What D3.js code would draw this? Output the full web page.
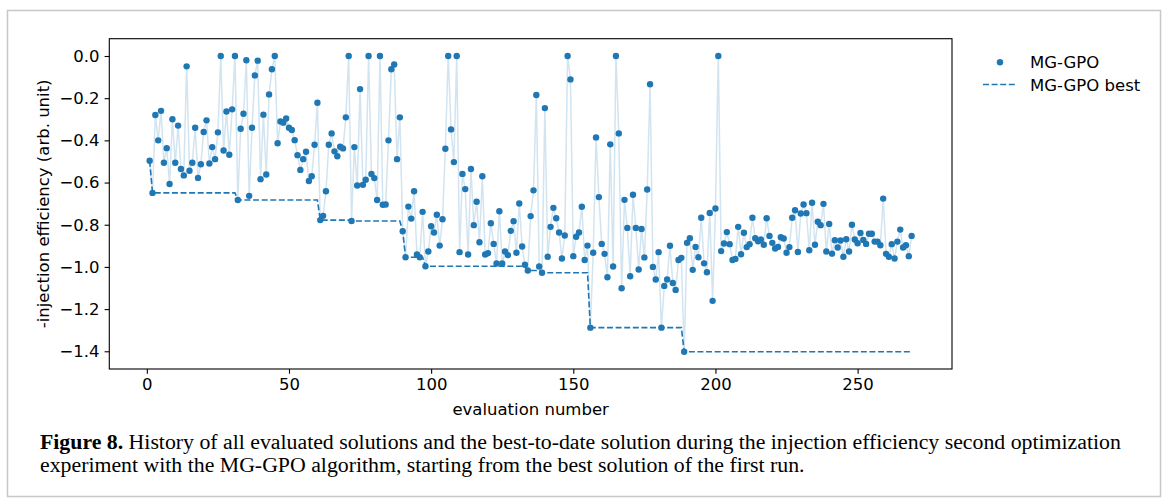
<!DOCTYPE html>
<html lang="en">
<head>
<meta charset="UTF-8">
<title>MG-GPO history</title>
<script src="https://d3js.org/d3.v7.min.js"></script>
<style>
  body { margin: 0; background: #fff; }
  text { font-family: 'DejaVu Sans', sans-serif; fill: #000; }
  .caption text { font-family: 'Liberation Serif', serif; }
</style>
</head>
<body>
<script>
// -injection efficiency for evaluations 1..269
const efficiency = [
  -0.497, -0.649, -0.28, -0.40, -0.26, -0.506, -0.437, -0.607, -0.30, -0.506,
  -0.33, -0.536, -0.566, -0.049, -0.544, -0.506, -0.34, -0.578, -0.513, -0.36,
  -0.305, -0.51, -0.432, -0.489, -0.362, 0.0, -0.448, -0.263, -0.468, -0.253,
  0.0, -0.683, -0.345, -0.274, -0.02, -0.663, -0.34, -0.092, -0.022, -0.584,
  -0.278, -0.562, -0.182, -0.063, 0.0, -0.414, -0.31, -0.316, -0.296, -0.34,
  -0.351, -0.399, -0.47, -0.54, -0.489, -0.454, -0.593, -0.57, -0.421, -0.222,
  -0.778, -0.758, -0.641, -0.421, -0.367, -0.452, -0.475, -0.43, -0.438, -0.291,
  0.0, -0.782, -0.432, -0.614, -0.157, -0.611, -0.587, 0.0, -0.559, -0.579,
  -0.683, 0.0, -0.705, -0.704, -0.40, -0.063, -0.04, -0.489, -0.291, -0.831,
  -0.954, -0.714, -0.771, -0.641, -0.941, -0.954, -0.739, -0.997, -0.927, -0.807,
  -0.837, -0.753, -0.899, -0.774, -0.44, 0.0, -0.348, -0.503, 0.0, -0.93,
  -0.559, -0.631, -0.941, -0.536, -0.802, -0.691, -0.883, -0.57, -0.941, -0.935,
  -0.793, -0.891, -0.984, -0.736, -0.984, -0.927, -0.944, -0.829, -0.783, -0.933,
  -0.699, -0.903, -0.99, -1.017, -0.759, -0.637, -0.185, -0.998, -1.028, -0.247,
  -0.952, -0.81, -0.72, -0.769, -0.837, -0.96, -0.851, 0.0, -0.111, -0.949,
  -0.857, -0.837, -0.715, -0.967, -0.899, -1.288, -0.933, -0.386, -0.669, -0.891,
  -0.938, -1.049, -0.419, -0.998, 0.0, -0.367, -1.101, -0.682, -0.815, -1.044,
  -0.658, -0.815, -1.012, -0.82, -0.955, -0.633, -0.134, -1.0, -1.06, -0.93,
  -1.288, -1.09, -1.06, -0.90, -1.076, -1.109, -0.967, -0.957, -1.402, -0.886,
  -0.864, -1.014, -0.905, -0.954, -0.767, -0.983, -1.025, -0.744, -1.161, -0.723,
  0.0, -0.925, -0.889, -0.835, -0.892, -0.967, -0.962, -0.81, -0.94, -0.838,
  -0.906, -0.892, -0.767, -0.864, -0.878, -0.87, -0.895, -0.769, -0.853, -0.886,
  -0.913, -0.905, -0.859, -0.865, -0.933, -0.906, -0.767, -0.731, -0.929, -0.747,
  -0.704, -0.745, -0.921, -0.696, -0.895, -0.786, -0.802, -0.701, -0.927, -0.796,
  -0.937, -0.873, -0.908, -0.875, -0.952, -0.869, -0.927, -0.80, -0.87, -0.888,
  -0.839, -0.872, -0.891, -0.843, -0.843, -0.88, -0.88, -0.897, -0.676, -0.938,
  -0.952, -0.892, -0.96, -0.88, -0.823, -0.908, -0.897, -0.949, -0.853
];

// evaluations where the best-to-date value improved
const bestEval  = [1, 2, 32, 61, 72, 90, 91, 98, 134, 139, 156, 189];
const bestValue = [-0.497, -0.649, -0.683, -0.778, -0.782, -0.831, -0.954, -0.997, -1.017, -1.028, -1.288, -1.402];

const xTicks = [0, 50, 100, 150, 200, 250];
const yTicks = [0.0, -0.2, -0.4, -0.6, -0.8, -1.0, -1.2, -1.4];

const seriesNames = ["MG-GPO", "MG-GPO best"];
const captionBold = "Figure 8.";
const captionLines = [
  " History of all evaluated solutions and the best-to-date solution during the injection efficiency second optimization",
  "experiment with the MG-GPO algorithm, starting from the best solution of the first run."
];

const width = 1170, height = 502;
const blue = "#1f77b4";

const evals = efficiency.map((d, i) => i + 1);
const points = evals.map((n, i) => [n, efficiency[i]]);
const lastEval = d3.max(evals);

// best-to-date: flat until the step before the next improvement
const bestPoints = [];
bestEval.forEach((n, i) => {
  bestPoints.push([n, bestValue[i]]);
  const end = i < bestEval.length - 1 ? bestEval[i + 1] - 1 : lastEval;
  if (end > n) bestPoints.push([end, bestValue[i]]);
});

const x = d3.scaleLinear().domain([-13.2, 283.2]).range([109.3, 952]);
const y = d3.scaleLinear().domain([-1.484, 0.082]).range([369, 38.7]);

const svg = d3.select("body").append("svg")
    .attr("width", width).attr("height", height);

// outer figure border
svg.append("rect")
    .attr("x", 7.5).attr("y", 10.5)
    .attr("width", 1153).attr("height", 486)
    .attr("fill", "none").attr("stroke", "#c8c8c8").attr("stroke-width", 1.5);

const line = d3.line().x(d => x(d[0])).y(d => y(d[1]));

svg.append("path")
    .datum(points)
    .attr("d", line)
    .attr("fill", "none")
    .attr("stroke", blue).attr("stroke-opacity", 0.2)
    .attr("stroke-width", 1.5);

svg.append("path")
    .datum(bestPoints)
    .attr("d", line)
    .attr("fill", "none")
    .attr("stroke", blue).attr("stroke-width", 1.6)
    .attr("stroke-dasharray", "6,2.6");

svg.append("g").selectAll("circle")
    .data(points).enter()
    .append("circle")
    .attr("cx", d => x(d[0]))
    .attr("cy", d => y(d[1]))
    .attr("r", 3.2)
    .attr("fill", blue);

// axes
const xAxis = svg.append("g")
    .attr("transform", `translate(0,${y.range()[0]})`)
    .call(d3.axisBottom(x).tickValues(xTicks).tickFormat(d3.format("d"))
        .tickSize(4.7).tickPadding(5).tickSizeOuter(0));

const yAxis = svg.append("g")
    .attr("transform", `translate(${x.range()[0]},0)`)
    .call(d3.axisLeft(y).tickValues(yTicks).tickFormat(d3.format(".1f"))
        .tickSize(4.7).tickPadding(5).tickSizeOuter(0));

[xAxis, yAxis].forEach(g => {
  g.selectAll("text").style("font-family", "'DejaVu Sans', sans-serif")
      .style("font-size", "16.5px").attr("fill", "#000");
  g.selectAll("line").attr("stroke", "#000").attr("stroke-width", 1.1);
  g.select(".domain").remove();
});

// frame
svg.append("rect")
    .attr("x", x.range()[0]).attr("y", y.range()[1])
    .attr("width", x.range()[1] - x.range()[0])
    .attr("height", y.range()[0] - y.range()[1])
    .attr("fill", "none").attr("stroke", "#000").attr("stroke-width", 1.1);

svg.append("text")
    .attr("x", d3.mean(x.range()) ).attr("y", 415)
    .attr("text-anchor", "middle")
    .style("font-size", "16.5px")
    .text("evaluation number");

svg.append("text")
    .attr("transform", `translate(49,${d3.mean(y.range())}) rotate(-90)`)
    .attr("text-anchor", "middle")
    .style("font-size", "16.5px")
    .text("-injection efficiency (arb. unit)");

// legend
const legend = svg.append("g");
legend.append("circle")
    .attr("cx", 1000).attr("cy", 62.3).attr("r", 3.2).attr("fill", blue);
legend.append("line")
    .attr("x1", 983).attr("x2", 1016).attr("y1", 84.5).attr("y2", 84.5)
    .attr("stroke", blue).attr("stroke-width", 1.6)
    .attr("stroke-dasharray", "6,2.6");
legend.selectAll("text.lab")
    .data(seriesNames).enter()
    .append("text").attr("class", "lab")
    .attr("x", 1030).attr("y", (d, i) => 67.5 + i * 23)
    .style("font-size", "16.5px")
    .text(d => d);

// caption
const cap = svg.append("g").attr("class", "caption");
const t1 = cap.append("text").attr("x", 0).attr("y", 0).style("font-size", "20px");
t1.append("tspan").style("font-weight", "bold").text(captionBold);
t1.append("tspan").text(captionLines[0]);
const t2 = cap.append("text").attr("x", 0).attr("y", 0).style("font-size", "20px")
    .text(captionLines[1]);
const w1 = t1.node().getComputedTextLength();
const k = 1082 / w1;
t1.attr("transform", `translate(40,448.5) scale(${k},1)`);
t2.attr("transform", `translate(40,471.5) scale(${k},1)`);
</script>
</body>
</html>
